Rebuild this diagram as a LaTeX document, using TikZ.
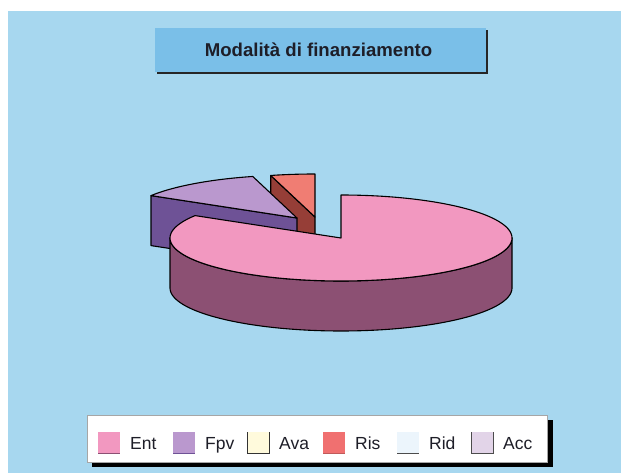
\documentclass[tikz,border=0pt]{standalone}
\usepackage{fontspec}
\setmainfont{Liberation Sans}
\definecolor{bg}{RGB}{167,215,239}
\definecolor{titlebl}{RGB}{122,191,232}
\definecolor{enttop}{RGB}{242,152,192}
\definecolor{entdk}{RGB}{140,80,115}
\definecolor{fpvtop}{RGB}{186,152,206}
\definecolor{fpvdk}{RGB}{110,82,150}
\definecolor{ristop}{RGB}{240,125,115}
\definecolor{risdk}{RGB}{150,62,55}
\definecolor{avac}{RGB}{255,250,220}
\definecolor{risc}{RGB}{240,112,112}
\definecolor{ridc}{RGB}{236,245,252}
\definecolor{accc}{RGB}{226,212,232}
\definecolor{txt}{RGB}{30,30,40}
\tikzset{
  pieedge/.style={draw=black, line width=1.1pt, line join=round},
  swatch/.style={line width=0.9pt},
  leglabel/.style={anchor=base west, inner sep=0pt, text=txt, font=\fontsize{17.5}{20}\selectfont},
}
\begin{document}
\begin{tikzpicture}[x=1pt,y=-1pt]
\useasboundingbox (0,0) rectangle (621,473);
\fill[white] (0,0) rectangle (621,473);
\fill[bg] (8,11) rectangle (621,473);
% title box
\fill[black!85] (157,30) rectangle (488,74);
\fill[titlebl] (155,28) rectangle (486,72);
\node[anchor=base, inner sep=0pt, text=txt, font=\bfseries\fontsize{18.6}{21}\selectfont] (title) at (318.5,56.5) {Modalità di finanziamento};
% Ris slice
\filldraw[fill=risdk, pieedge] (270.7,175.5) -- (315,217) -- (315,267) -- (270.7,225.5) -- cycle;
\filldraw[fill=ristop, pieedge] (315,217) -- plot[domain=255:270,samples=20] ({315+171*cos(\x)},{217+43*sin(\x)}) -- cycle;
% Fpv slice
\filldraw[fill=fpvdk, pieedge] (151,195.6) -- (297,218) -- (297,268) -- (151,245.6) -- cycle;
\filldraw[fill=fpvtop, pieedge] (297,218) -- plot[domain=211.4:255,samples=40] ({297+171*cos(\x)},{218+43*sin(\x)}) -- cycle;
% Ent slice
\filldraw[fill=entdk, pieedge] plot[domain=180:0,samples=90] ({341+171*cos(\x)},{238+43*sin(\x)}) -- plot[domain=0:180,samples=90] ({341+171*cos(\x)},{288+43*sin(\x)}) -- cycle;
\filldraw[fill=enttop, pieedge] (341,238) -- plot[domain=-90:211.4,samples=160] ({341+171*cos(\x)},{238+43*sin(\x)}) -- cycle;
% legend
\fill[black] (92,420) rectangle (553,467);
\filldraw[fill=white, draw=black!35, line width=0.8pt] (87,415) rectangle (547,462);
% Ent
\fill[enttop] (98,432) rectangle (120,453);
\draw[swatch, entdk] (98,453) -- (120,453);
\node[leglabel] (lent) at (130,449) {Ent};
% Fpv
\fill[fpvtop] (173,432) rectangle (195,453);
\draw[swatch, fpvdk] (173,453) -- (195,453);
\node[leglabel] (lfpv) at (205,449) {Fpv};
% Ava
\fill[avac] (247,432) rectangle (269,453);
\draw[swatch, black!80] (247,432) -- (247,453) -- (269,453) -- (269,432);
\node[leglabel] (lava) at (279,449) {Ava};
% Ris
\fill[risc] (323,432) rectangle (345,453);
\draw[swatch, risc!80!black] (323,453) -- (345,453);
\node[leglabel] (lris) at (355,449) {Ris};
% Rid
\fill[ridc] (397,432) rectangle (419,453);
\draw[swatch, black!70] (397,453) -- (419,453);
\node[leglabel] (lrid) at (429,449) {Rid};
% Acc
\fill[accc] (471,432) rectangle (493,453);
\draw[swatch, black!70] (471,432) -- (471,453) -- (493,453) -- (493,432);
\node[leglabel] (lacc) at (503,449) {Acc};
\end{tikzpicture}
\end{document}
